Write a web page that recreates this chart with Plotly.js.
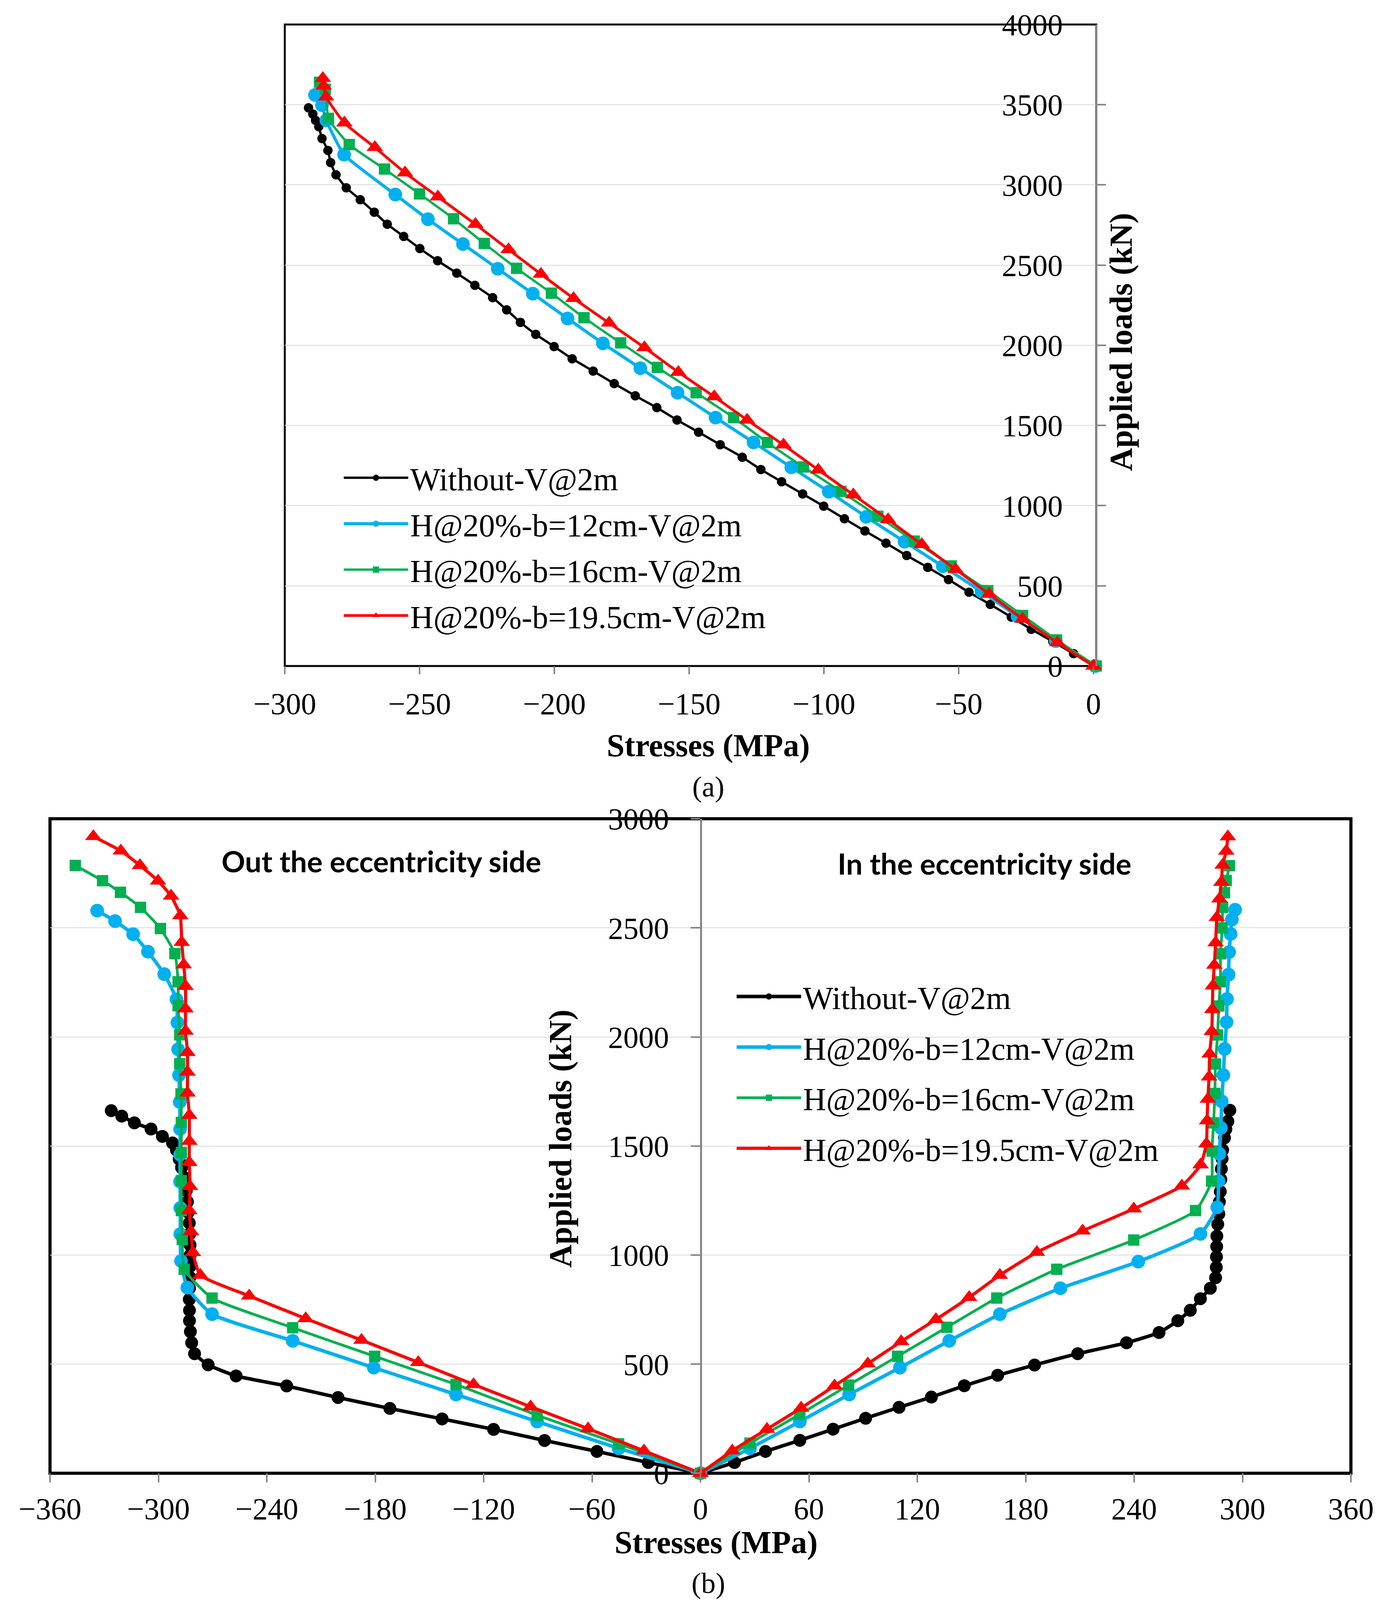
<!DOCTYPE html>
<html>
<head>
<meta charset="utf-8">
<script src="https://cdn.plot.ly/plotly-3.0.1.min.js"></script>
<style>
  html, body { margin: 0; padding: 0; background: #fff; overflow: hidden; }
</style>
</head>
<body>
<div id="chart"></div>
<script>
// (a) stresses vs applied loads
var aBlackLoad = [0, 77, 153, 229, 305, 384, 460, 539, 615, 689, 766, 842, 918, 997, 1073, 1149, 1225, 1302, 1380, 1458, 1534, 1611, 1685, 1761, 1839, 1916, 1992, 2068, 2143, 2221, 2297, 2374, 2450, 2527, 2603, 2679, 2755, 2830, 2908, 2982, 3063, 3139, 3215, 3289, 3363, 3403, 3442, 3481];
var aBlackStress = [0, -7.4, -15.1, -23.1, -30.5, -38.3, -46.2, -53.8, -61.5, -69.3, -77.0, -84.8, -92.4, -100.1, -107.9, -115.7, -123.4, -130.3, -138.5, -146.5, -154.5, -162.0, -170.0, -177.8, -185.6, -193.4, -200.1, -206.9, -212.6, -217.7, -222.9, -229.5, -236.2, -243.3, -249.9, -255.9, -262.0, -266.8, -272.0, -277.2, -281.0, -283.0, -284.0, -286.2, -287.4, -288.6, -289.6, -291.2];

var aBlueLoad = [0, 155, 310, 465, 622, 775, 930, 1087, 1239, 1394, 1549, 1704, 1857, 2012, 2167, 2322, 2477, 2631, 2786, 2940, 3189, 3403, 3497, 3561];
var aBlueStress = [0.7, -14.0, -28.2, -41.6, -55.9, -70.1, -84.3, -98.2, -112.1, -126.1, -140.2, -154.3, -168.1, -182.0, -195.1, -208.0, -221.0, -233.9, -246.9, -259.0, -278.0, -284.6, -286.2, -288.8];

var aGreenLoad = [0, 163, 315, 470, 624, 779, 934, 1089, 1241, 1394, 1549, 1704, 1862, 2015, 2172, 2325, 2480, 2635, 2789, 2944, 3099, 3252, 3415, 3597, 3640];
var aGreenStress = [1.0, -13.7, -26.3, -39.2, -52.8, -66.5, -80.0, -93.7, -107.6, -121.0, -133.5, -147.4, -161.8, -175.4, -189.0, -201.1, -214.0, -226.0, -237.4, -250.0, -263.0, -276.1, -283.8, -285.0, -287.1];

var aRedLoad = [0, 146, 293, 448, 603, 758, 913, 1068, 1223, 1379, 1534, 1680, 1832, 1986, 2139, 2293, 2444, 2597, 2755, 2926, 3076, 3234, 3387, 3549, 3617, 3665];
var aRedStress = [0, -13.4, -26.3, -38.7, -51.2, -63.7, -76.2, -89.1, -102.1, -115.0, -128.5, -140.7, -154.0, -166.6, -179.7, -192.9, -205.0, -217.0, -229.3, -243.2, -255.4, -266.6, -277.9, -284.7, -285.6, -285.9];

// (b) out the eccentricity side (negative) and in the eccentricity side (positive)
var bBlackOutLoad = [0, 49, 100, 150, 201, 249, 297, 347, 400, 446, 497, 548, 598, 649, 699, 747, 797, 848, 898, 948, 1000, 1046, 1098, 1147, 1196, 1244, 1295, 1354, 1401, 1440, 1481, 1514, 1544, 1578, 1606, 1637, 1662];
var bBlackOutStress = [0, -28.9, -57.3, -86.3, -114.5, -143.0, -171.9, -200.6, -229.0, -257.0, -272.5, -280.0, -281.6, -282.3, -282.8, -282.8, -282.9, -282.8, -282.6, -282.5, -282.4, -282.5, -282.6, -282.9, -283.5, -283.9, -284.6, -285.5, -287.2, -288.5, -290.0, -292.2, -297.8, -304.1, -313.3, -320.3, -326.1];
var bBlackInLoad = [0, 49, 100, 151, 202, 252, 302, 349, 401, 449, 496, 548, 598, 645, 699, 747, 800, 848, 896, 944, 992, 1039, 1087, 1141, 1189, 1244, 1291, 1347, 1395, 1442, 1482, 1537, 1577, 1613, 1664];
var bBlackInStress = [0, 18.8, 36.0, 55.0, 73.4, 91.4, 109.9, 127.8, 146.0, 164.5, 184.9, 208.8, 235.8, 253.8, 264.2, 271.1, 276.7, 282.2, 285.1, 285.5, 285.6, 285.7, 285.8, 286.3, 286.9, 287.2, 287.7, 288.0, 288.3, 288.7, 289.0, 290.0, 290.8, 291.9, 293.0];

var bBlueOutLoad = [0, 114, 237, 361, 484, 607, 729, 851, 973, 1096, 1216, 1337, 1460, 1578, 1702, 1825, 1943, 2066, 2172, 2288, 2391, 2471, 2531, 2579];
var bBlueOutStress = [0, -45.3, -90.4, -135.3, -180.8, -225.7, -270.3, -284.0, -287.5, -287.9, -287.9, -288.0, -288.0, -288.0, -288.2, -288.6, -289.1, -289.5, -290.0, -296.8, -305.8, -314.0, -324.0, -333.9];
var bBlueInLoad = [0, 114, 237, 361, 484, 607, 729, 848, 970, 1097, 1219, 1339, 1464, 1583, 1705, 1825, 1945, 2068, 2174, 2286, 2389, 2472, 2538, 2583];
var bBlueInStress = [0, 27.4, 55.0, 82.3, 110.4, 137.7, 165.7, 199.2, 242.3, 276.7, 286.0, 286.7, 287.2, 288.0, 288.5, 289.4, 290.1, 291.2, 291.4, 292.3, 292.6, 293.4, 294.1, 295.9];

var bGreenOutLoad = [0, 135, 266, 407, 536, 667, 803, 935, 1071, 1204, 1341, 1470, 1608, 1739, 1877, 2010, 2143, 2253, 2382, 2497, 2594, 2663, 2716, 2786];
var bGreenOutStress = [0, -45.3, -90.4, -135.3, -180.3, -225.7, -270.3, -285.7, -286.8, -287.3, -287.3, -287.3, -287.3, -287.5, -288.2, -288.2, -289.1, -289.1, -290.9, -298.9, -309.9, -321.0, -330.9, -346.0];
var bGreenInLoad = [0, 138, 270, 404, 536, 669, 803, 935, 1069, 1204, 1339, 1477, 1606, 1741, 1876, 2009, 2142, 2253, 2381, 2500, 2594, 2661, 2717, 2785];
var bGreenInStress = [0, 27.4, 55.0, 82.0, 109.1, 136.4, 164.0, 197.2, 239.8, 274.0, 282.9, 283.1, 284.0, 284.7, 285.0, 286.2, 286.9, 287.8, 287.8, 288.8, 289.0, 290.0, 291.0, 292.8];

var bRedOutLoad = [0, 103, 204, 305, 407, 508, 610, 709, 813, 908, 1012, 1108, 1204, 1315, 1425, 1522, 1641, 1743, 1839, 1929, 2027, 2129, 2232, 2331, 2434, 2556, 2646, 2715, 2786, 2853, 2919];
var bRedOutStress = [0, -31.3, -62.2, -94.0, -125.6, -156.2, -187.6, -218.5, -249.8, -276.8, -280.9, -282.0, -282.9, -282.5, -282.9, -282.9, -282.9, -283.9, -283.9, -283.9, -285.0, -285.0, -285.0, -286.0, -287.1, -287.9, -293.0, -300.2, -310.2, -320.8, -336.0];
var bRedInLoad = [0, 103, 202, 299, 401, 502, 604, 705, 806, 908, 1013, 1111, 1212, 1317, 1414, 1510, 1616, 1715, 1817, 1922, 2025, 2126, 2234, 2329, 2432, 2548, 2633, 2709, 2788, 2852, 2918];
var bRedInStress = [0, 17.6, 36.8, 55.7, 74.2, 92.6, 111.1, 130.3, 148.7, 165.7, 186.2, 211.5, 239.8, 266.4, 276.8, 280.0, 280.4, 280.8, 281.5, 281.8, 283.0, 283.3, 283.6, 284.4, 285.1, 285.8, 287.2, 288.3, 289.0, 291.0, 291.9];

var seriesNames = ['Without-V@2m', 'H@20%-b=12cm-V@2m', 'H@20%-b=16cm-V@2m', 'H@20%-b=19.5cm-V@2m'];
var seriesColors = ['#000000', '#00B0F0', '#00B050', '#FF0000'];
var seriesSymbols = ['circle', 'circle', 'square', 'triangle-up'];

function mk(x, y, i, xa, ya, opts) {
    return {
        type: 'scatter',
        mode: 'lines+markers',
        x: x,
        y: y,
        xaxis: xa,
        yaxis: ya,
        name: seriesNames[i],
        legend: opts.legend,
        legendgroup: opts.legend + i,
        showlegend: opts.showlegend,
        cliponaxis: false,
        line: {color: seriesColors[i], width: opts.lw[i], shape: 'spline', smoothing: 0.5},
        marker: {color: seriesColors[i], symbol: seriesSymbols[i], size: opts.ms[i]}
    };
}

var topOpts = {legend: 'legend', showlegend: true, lw: [6, 8, 6, 7], ms: [24, 35, 29, 37]};
var botIn = {legend: 'legend2', showlegend: true, lw: [9, 9, 7, 8], ms: [33, 35, 29, 37]};
var botOut = {legend: 'legend2', showlegend: false, lw: [9, 9, 7, 8], ms: [33, 35, 29, 37]};

var data = [
    mk(aBlackStress, aBlackLoad, 0, 'x', 'y', topOpts),
    mk(aBlueStress, aBlueLoad, 1, 'x', 'y', topOpts),
    mk(aGreenStress, aGreenLoad, 2, 'x', 'y', topOpts),
    mk(aRedStress, aRedLoad, 3, 'x', 'y', topOpts),
    mk(bBlackOutStress, bBlackOutLoad, 0, 'x2', 'y2', botOut),
    mk(bBlueOutStress, bBlueOutLoad, 1, 'x2', 'y2', botOut),
    mk(bGreenOutStress, bGreenOutLoad, 2, 'x2', 'y2', botOut),
    mk(bRedOutStress, bRedOutLoad, 3, 'x2', 'y2', botOut),
    mk(bBlackInStress, bBlackInLoad, 0, 'x2', 'y2', botIn),
    mk(bBlueInStress, bBlueInLoad, 1, 'x2', 'y2', botIn),
    mk(bGreenInStress, bGreenInLoad, 2, 'x2', 'y2', botIn),
    mk(bRedInStress, bRedInLoad, 3, 'x2', 'y2', botIn)
];

var serif = 'Liberation Serif, Times New Roman, serif';
var sans = 'Lato, Open Sans, sans-serif';
var tickGray = '#868686';

// fit the figure to the window that is photographed
var W = window.innerWidth || 3535;
var H = window.innerHeight || 4430;
document.getElementById('chart').style.width = W + 'px';
document.getElementById('chart').style.height = H + 'px';

var layout = {
    width: W,
    height: H,
    margin: {l: 0, r: 0, t: 0, b: 0},
    paper_bgcolor: '#ffffff',
    plot_bgcolor: '#ffffff',
    font: {family: serif, color: '#000000', size: 78},
    xaxis: {
        domain: [0.20622, 0.79378],
        range: [-300, 1],
        anchor: 'y',
        dtick: 50,
        tick0: 0,
        ticks: 'outside',
        ticklen: 20,
        tickwidth: 4,
        tickcolor: tickGray,
        ticklabelstandoff: 8,
        showgrid: false,
        zeroline: false,
        showline: false,
        tickfont: {size: 78}
    },
    yaxis: {
        domain: [0.58375, 0.98465],
        range: [0, 4000],
        anchor: 'free',
        position: 0.79378,
        side: 'left',
        dtick: 500,
        ticks: 'inside',
        ticklen: 22,
        tickwidth: 4,
        tickcolor: tickGray,
        ticklabelstandoff: 68,
        showline: true,
        linecolor: tickGray,
        linewidth: 5,
        showgrid: true,
        gridcolor: '#d9d9d9',
        gridwidth: 2,
        zeroline: false,
        tickfont: {size: 78}
    },
    xaxis2: {
        domain: [0.03621, 0.97822],
        range: [-360, 360],
        anchor: 'y2',
        dtick: 60,
        tick0: 0,
        ticks: 'outside',
        ticklen: 23,
        tickwidth: 4,
        tickcolor: tickGray,
        showgrid: false,
        zeroline: false,
        showline: false,
        tickfont: {size: 78}
    },
    yaxis2: {
        domain: [0.07923, 0.48826],
        range: [0, 3000],
        anchor: 'free',
        position: 0.5075,
        side: 'left',
        dtick: 500,
        ticks: 'outside',
        ticklen: 24,
        tickwidth: 4,
        tickcolor: tickGray,
        ticklabelstandoff: 40,
        showline: true,
        linecolor: tickGray,
        linewidth: 5,
        showgrid: true,
        gridcolor: '#d9d9d9',
        gridwidth: 2,
        zeroline: false,
        tickfont: {size: 78}
    },
    legend: {
        x: 0.2475, y: 0.7160, xanchor: 'left', yanchor: 'top',
        bgcolor: 'rgba(0,0,0,0)',
        font: {size: 82},
        itemwidth: 165,
        itemsizing: 'trace',
        traceorder: 'grouped',
        tracegroupgap: 8
    },
    legend2: {
        x: 0.532, y: 0.3918, xanchor: 'left', yanchor: 'top',
        bgcolor: 'rgba(0,0,0,0)',
        font: {size: 82},
        itemwidth: 165,
        itemsizing: 'trace',
        traceorder: 'grouped',
        tracegroupgap: 20
    },
    shapes: [
        {type: 'rect', xref: 'x domain', yref: 'y domain', x0: 0, x1: 1, y0: 0, y1: 1,
         line: {color: '#000000', width: 5}, layer: 'below'},
        {type: 'rect', xref: 'x2 domain', yref: 'y2 domain', x0: 0, x1: 1, y0: 0, y1: 1,
         line: {color: '#000000', width: 8}, layer: 'below'}
    ],
    annotations: [
        {text: '<b>Stresses (MPa)</b>', xref: 'paper', yref: 'paper', x: 0.5129, y: 0.5341,
         xanchor: 'center', yanchor: 'middle', showarrow: false, font: {size: 82}},
        {text: '<b>Applied loads (kN)</b>', xref: 'paper', yref: 'paper', x: 0.8119, y: 0.7862,
         xanchor: 'center', yanchor: 'middle', textangle: -90, showarrow: false, font: {size: 82}},
        {text: '<b>Stresses (MPa)</b>', xref: 'paper', yref: 'paper', x: 0.5185, y: 0.0361,
         xanchor: 'center', yanchor: 'middle', showarrow: false, font: {size: 82}},
        {text: '<b>Applied loads (kN)</b>', xref: 'paper', yref: 'paper', x: 0.4057, y: 0.2883,
         xanchor: 'center', yanchor: 'middle', textangle: -90, showarrow: false, font: {size: 82}},
        {text: 'Out the eccentricity side', xref: 'paper', yref: 'paper', x: 0.2761, y: 0.4619,
         xanchor: 'center', yanchor: 'middle', showarrow: false,
         font: {family: sans, size: 75, weight: 'bold'}},
        {text: 'In the eccentricity side', xref: 'paper', yref: 'paper', x: 0.7129, y: 0.4605,
         xanchor: 'center', yanchor: 'middle', showarrow: false,
         font: {family: sans, size: 75, weight: 'bold'}},
        {text: '(a)', xref: 'paper', yref: 'paper', x: 0.5129, y: 0.5084,
         xanchor: 'center', yanchor: 'middle', showarrow: false, font: {size: 74}},
        {text: '(b)', xref: 'paper', yref: 'paper', x: 0.5129, y: 0.0106,
         xanchor: 'center', yanchor: 'middle', showarrow: false, font: {size: 74}}
    ]
};

Plotly.newPlot('chart', data, layout, {staticPlot: true});
</script>
</body>
</html>
